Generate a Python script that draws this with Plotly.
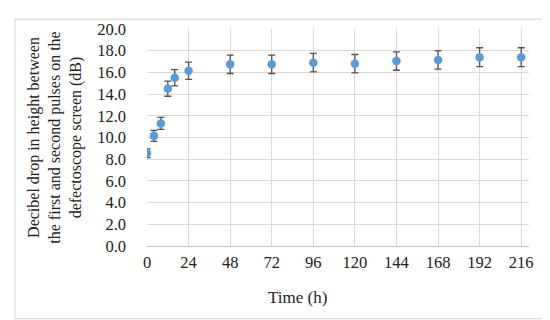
import plotly.graph_objects as go

time_h = [0, 4, 8, 12, 16, 24, 48, 72, 96, 120, 144, 168, 192, 216]
db_drop = [8.55, 10.15, 11.3, 14.5, 15.5, 16.15, 16.75, 16.75, 16.9, 16.8, 17.05, 17.15, 17.4, 17.4]
err = [0.4, 0.5, 0.55, 0.7, 0.75, 0.8, 0.85, 0.85, 0.85, 0.85, 0.85, 0.85, 0.87, 0.87]
x_ticks = [0, 24, 48, 72, 96, 120, 144, 168, 192, 216]
y_ticks = [0, 2, 4, 6, 8, 10, 12, 14, 16, 18, 20]

W, H = 550, 320
L, R, T, B = 139, 29, 17, 82
pw, ph = W - L - R, H - T - B

def px(x):
    return (x - L) / pw

def py(y):
    return (H - B - y) / ph

font = "Liberation Serif, Times New Roman, serif"

fig = go.Figure()
fig.add_trace(go.Scatter(
    x=time_h, y=db_drop, mode="markers",
    marker=dict(color="#5B9BD5", size=8.5),
    error_y=dict(type="data", array=err, visible=True, color="#505050", thickness=1.3, width=3.5),
    showlegend=False,
))

fig.update_layout(
    width=W, height=H,
    margin=dict(l=L, r=R, t=T, b=B),
    paper_bgcolor="white", plot_bgcolor="white",
    font=dict(family=font, size=16.5, color="#222222"),
    xaxis=dict(
        range=[0, 220.5], tickvals=x_ticks, ticktext=[str(v) for v in x_ticks],
        showgrid=True, gridcolor="#d9d9d9", gridwidth=1.2,
        zeroline=False, showline=True, linecolor="#c8c8c8", linewidth=1.2,
        ticks="", ticklabelstandoff=1,
    ),
    yaxis=dict(
        range=[0, 20], tickvals=y_ticks, ticktext=[f"{v:.1f}" for v in y_ticks],
        showgrid=True, gridcolor="#d9d9d9", gridwidth=1.2,
        zeroline=False, showline=False, ticks="", ticklabelstandoff=20,
        title=dict(text="Decibel drop in height between<br>the first and second pulses on the<br>defectoscope screen (dB)",
                   font=dict(size=16), standoff=11),
    ),
    annotations=[dict(text="Time (h)", xref="paper", yref="paper", x=px(289), y=py(290),
                      xanchor="center", yanchor="middle", showarrow=False, font=dict(size=17))],
    shapes=[dict(type="rect", xref="paper", yref="paper",
                 x0=px(7), x1=px(542), y0=py(312), y1=py(7),
                 line=dict(color="#d9d9d9", width=1.2), fillcolor="rgba(0,0,0,0)", layer="below")],
)

fig.write_html("out.html")
